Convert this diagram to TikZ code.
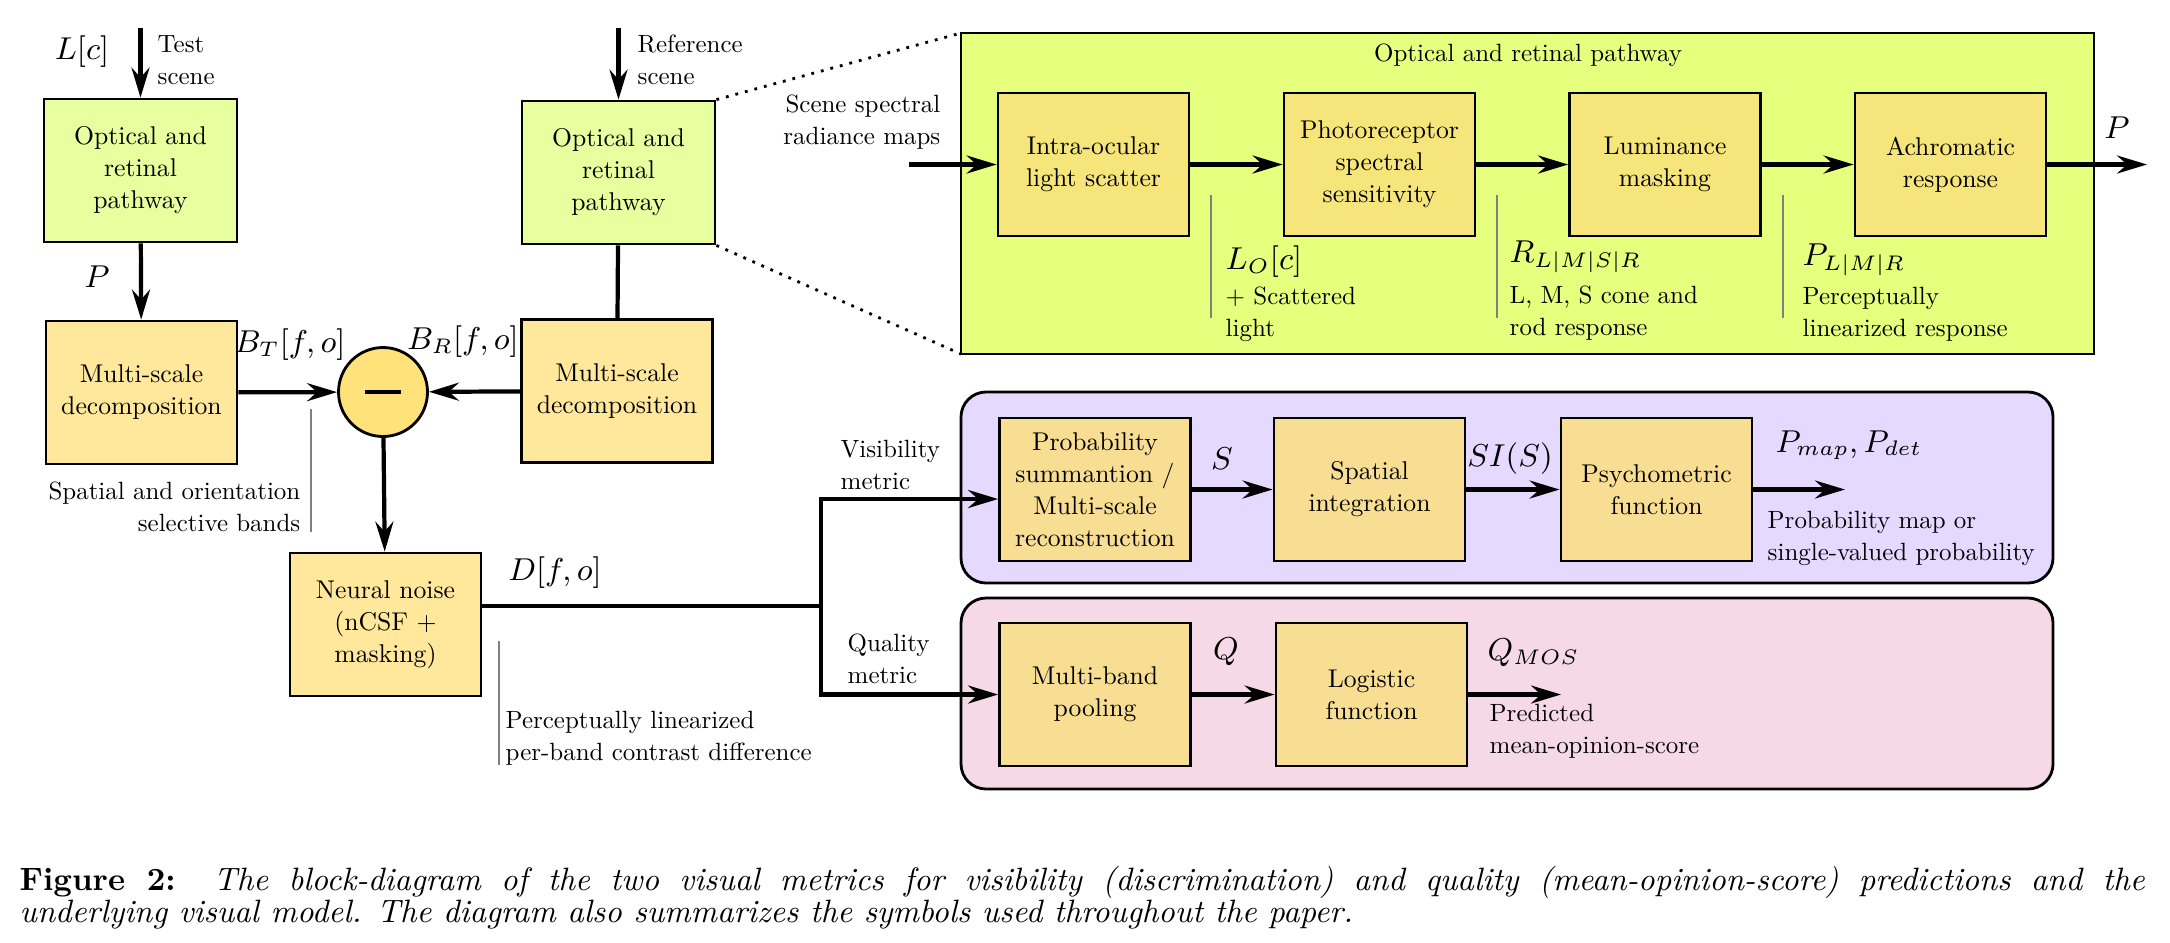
\documentclass[tikz,border=0pt]{standalone}
\usepackage{amsmath,amssymb}
\usepackage{fontspec}
\setmainfont{lmroman10-regular.otf}[ItalicFont=lmroman10-italic.otf, BoldFont=lmroman10-bold.otf, BoldItalicFont=lmroman10-bolditalic.otf]
\usepackage{tikz}
\usetikzlibrary{arrows.meta,calc}

\definecolor{optgreen}{HTML}{E8FFA0}
\definecolor{pathgreen}{HTML}{E6FF7C}
\definecolor{stagefill}{HTML}{F5E57A}
\definecolor{bandfill}{HTML}{FFE89C}
\definecolor{difffill}{HTML}{FFE27A}
\definecolor{visfill}{HTML}{E6D9FF}
\definecolor{qualfill}{HTML}{F5D9E6}
\definecolor{metricfill}{HTML}{F8DE92}

\tikzset{
  blk/.style={draw, thick, align=center, inner sep=1pt, minimum width=19.1mm, minimum height=14.3mm, font=\fontsize{7.3}{9.1}\selectfont},
  arr/.style={very thick, -{Stealth[length=3mm,width=1.8mm,inset=1mm]}},
  wire/.style={very thick},
  note/.style={inner sep=0pt, align=left, font=\fontsize{7.1}{9.1}\selectfont},
  sym/.style={inner sep=0pt, font=\fontsize{9}{10}\selectfont},
  tick/.style={draw, gray, thin},
  panel/.style={draw, thick}
}

\begin{document}
\begin{tikzpicture}[x=0.1mm, y=-0.1mm]
            \useasboundingbox (0,0) rectangle (2170,942);

            % 左側: テストと参照
            \node[blk, fill=optgreen, minimum width=19.3mm](optT)at(140.5,170.5){Optical and\\retinal\\pathway};
            \node[blk, fill=bandfill](msT)at(141.5,392.5){Multi-scale\\decomposition};
            \node[blk, fill=optgreen, minimum width=19.3mm](optR)at(618.5,172.5){Optical and\\retinal\\pathway};
            \node[blk, fill=bandfill](msR)at(617,391){Multi-scale\\decomposition};
            \node[draw, thick, circle, fill=difffill, minimum size=8.9mm](diff)at(383,392){};
            \path[draw, line width=1.4pt]($(diff.center)+(-18,0)$)to($(diff.center)+(18,0)$);
            \node[blk, fill=bandfill](noise)at(385.5,624.5){Neural noise\\(nCSF +\\masking)};

            \coordinate(testin)at(140.5,28);
            \coordinate(refin)at(618.5,28);
            \path[draw, arr](testin)to(optT);
            \path[draw, arr](refin)to(optR);
            \path[draw, arr](optT)to(msT);
            \path[draw, wire](optR)to(msR);
            \path[draw, arr](msT)to(diff);
            \path[draw, arr](msR)to(diff);
            \path[draw, arr](diff)to(noise);

            \node[sym](Lc)at(82,52){$L[c]$};
            \node[note, anchor=west](testlbl)at(157,60){Test\\scene};
            \node[note, anchor=west](reflbl)at(637,60){Reference\\scene};
            \node[sym](Plbl)at(97,277){$P$};
            \node[sym](BT)at(290,345){$B_T[f,o]$};
            \node[sym](BR)at(463,342){$B_R[f,o]$};
            \node[sym](Dfo)at(555,573){$D[f,o]$};

            \path[tick](311,409)to(311,532);
            \node[note, anchor=east, align=right](bandlbl)at(301,507){Spatial and orientation\\selective bands};
            \path[tick](499,641)to(499,765);
            \node[note, anchor=west](difflbl)at(505,738){Perceptually linearized\\per-band contrast difference};

            % 光学・網膜経路
            \path[panel, fill=pathgreen](961,33)coordinate(gNW)rectangle(2094,354);
            \coordinate(gSW)at(961,354);
            \path[draw, dotted, thick](optR.north east)to(gNW);
            \path[draw, dotted, thick](optR.south east)to(gSW);
            \node[note](gtitle)at(1528,55){Optical and retinal pathway};

            \node[blk, fill=stagefill](scat)at(1093.5,164.5){Intra-ocular\\light scatter};
            \node[blk, fill=stagefill](photo)at(1379.5,164.5){Photoreceptor\\spectral\\sensitivity};
            \node[blk, fill=stagefill](lum)at(1665,164.5){Luminance\\masking};
            \node[blk, fill=stagefill](achr)at(1950.5,164.5){Achromatic\\response};
            \coordinate(radin)at(909,164.5);
            \coordinate(pout)at(2147,164.5);
            \path[draw, arr](radin)to(scat);
            \path[draw, arr](scat)to(photo);
            \path[draw, arr](photo)to(lum);
            \path[draw, arr](lum)to(achr);
            \path[draw, arr](achr)to(pout);

            \node[note, anchor=east, align=right](radlbl)at(941,122){Scene spectral\\radiance maps};
            \node[sym](Pout)at(2117,128){$P$};
            \path[tick](1211,195)to(1211,318);
            \path[tick](1497,195)to(1497,318);
            \path[tick](1783,195)to(1783,318);
            \node[sym, anchor=west](LO)at(1225,262){$L_O[c]$};
            \node[note, anchor=west](scatlbl)at(1225,314){+ Scattered\\light};
            \node[sym, anchor=west](RL)at(1509,257){$R_{L|M|S|R}$};
            \node[note, anchor=west](conelbl)at(1509,313){L, M, S cone and\\rod response};
            \node[sym, anchor=west](PL)at(1802,260){$P_{L|M|R}$};
            \node[note, anchor=west](linlbl)at(1802,314){Perceptually\\linearized response};

            % 可視性メトリック
            \path[panel, fill=visfill, rounded corners=2.5mm](961,392)rectangle(2053,583);
            \node[blk, fill=metricfill](psum)at(1095,489.5){Probability\\summantion /\\Multi-scale\\reconstruction};
            \node[blk, fill=metricfill](spint)at(1369.5,489.5){Spatial\\integration};
            \node[blk, fill=metricfill](psych)at(1656.5,489.5){Psychometric\\function};
            \coordinate(visout)at(1845,489.5);
            \path[draw, arr](psum)to(spint);
            \path[draw, arr](spint)to(psych);
            \path[draw, arr](psych)to(visout);
            \node[sym](Slbl)at(1222,459){$S$};
            \node[sym](SIlbl)at(1510,459){$SI(S)$};
            \node[sym, anchor=west](Pmap)at(1775,445){$P_{map}, P_{det}$};
            \node[note, anchor=west](problbl)at(1767,538){Probability map or\\single-valued probability};

            % 品質メトリック
            \path[panel, fill=qualfill, rounded corners=2.5mm](961,598)rectangle(2053,789);
            \node[blk, fill=metricfill](pool)at(1095,694.5){Multi-band\\pooling};
            \node[blk, fill=metricfill](logi)at(1371.5,694.5){Logistic\\function};
            \coordinate(qout)at(1561,694.5);
            \path[draw, arr](pool)to(logi);
            \path[draw, arr](logi)to(qout);
            \node[sym](Qlbl)at(1226,652){$Q$};
            \node[sym, anchor=west](QMOS)at(1487,653){$Q_{MOS}$};
            \node[note, anchor=west](moslbl)at(1489,731){Predicted\\mean-opinion-score};

            % 分岐
            \coordinate(split)at(821,606);
            \path[draw, wire](noise.east |- split)to(split);
            \path[draw, arr](split)|-([yshift=-0.95mm]psum.west);
            \path[draw, arr](split)|-(pool.west);
            \node[note, anchor=west](vislbl)at(840,465){Visibility\\metric};
            \node[note, anchor=west](quallbl)at(847,659){Quality\\metric};

            % キャプション
            \node[anchor=north west, inner sep=0pt, text width=212.5mm, align=justify, font=\fontsize{9.2}{9.1}\selectfont](caption)at(19,866){\textbf{Figure 2:}\ \ \textit{The block-diagram of the two visual metrics for visibility (discrimination) and quality (mean-opinion-score) predictions and the\linebreak underlying visual model. The diagram also summarizes the symbols used throughout the paper.}};
        \end{tikzpicture}
\end{document}
